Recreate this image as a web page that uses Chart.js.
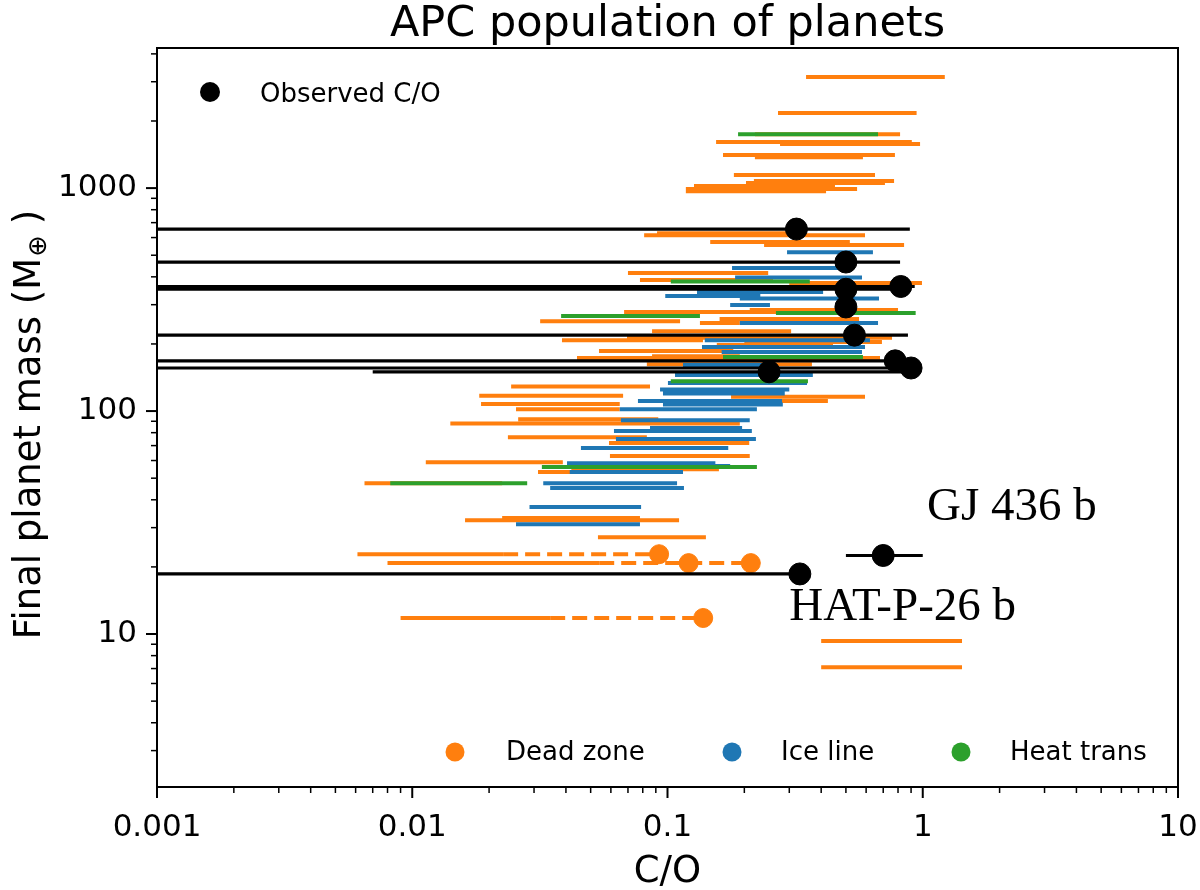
<!DOCTYPE html>
<html><head><meta charset="utf-8">
<script src="https://cdn.jsdelivr.net/npm/chart.js@4/dist/chart.umd.min.js"></script>
<style>html,body{margin:0;padding:0;background:#fff}</style>
</head><body>
<canvas id="c" width="1200" height="890"></canvas>
<script>
// ---- axis ticks ----
const xTickValues = [0.001, 0.01, 0.1, 1, 10];
const yTickValues = [10, 100, 1000];

// ---- Dead zone (orange) C/O ranges ----
const deadMass = [3150, 2170, 1746, 1608, 1575, 1406, 1377, 1144, 1075, 1053, 1021, 990, 969, 628, 615, 573, 555, 416, 387, 375, 284, 278, 259, 253, 248, 228, 213, 208, 204, 198, 186, 176, 173, 162, 129, 117, 116, 111, 107.5, 102, 92, 88, 76.4, 71.9, 62.8, 59, 54.9, 53.3, 47.5, 33.1, 32.4, 27.2, 9.3, 7.1];
const deadLo = [0.349, 0.271, 0.22, 0.155, 0.276, 0.165, 0.22, 0.182, 0.218, 0.203, 0.127, 0.118, 0.118, 0.091, 0.081, 0.147, 0.239, 0.070, 0.078, 0.30, 0.21, 0.0676, 0.16, 0.0317, 0.134, 0.087, 0.0694, 0.0386, 0.2, 0.156, 0.0539, 0.087, 0.0442, 0.083, 0.0244, 0.0183, 0.1774, 0.22, 0.0186, 0.0255, 0.026, 0.0141, 0.0237, 0.059, 0.0595, 0.0113, 0.042, 0.0311, 0.0065, 0.0225, 0.0161, 0.0534, 0.40, 0.40];
const deadHi = [1.22, 0.946, 0.815, 0.906, 0.976, 0.778, 0.583, 0.65, 0.772, 0.711, 0.453, 0.553, 0.418, 0.321, 0.594, 0.518, 0.845, 0.248, 0.259, 0.993, 0.80, 0.724, 0.563, 0.112, 0.192, 0.305, 0.758, 0.1377, 0.692, 0.445, 0.181, 0.192, 0.68, 0.368, 0.0854, 0.067, 0.594, 0.425, 0.065, 0.065, 0.092, 0.192, 0.083, 0.209, 0.21, 0.0389, 0.159, 0.11, 0.0225, 0.078, 0.111, 0.1414, 1.425, 1.425];

// ---- Dead zone planets with extended (dashed) C/O ----
const limMass = [22.8, 20.8, 20.8, 11.8];
const limLo = [0.0061, 0.008, 0.0137, 0.009];
const limMid = [0.0227, 0.054, 0.054, 0.0347];
const limCO = [0.0927, 0.121, 0.212, 0.138];

// ---- Ice line (blue) ----
const iceMass = [516, 438, 397, 342, 328, 320, 299, 248, 208, 194, 184, 161, 145, 133.5, 125, 120, 111, 107, 102, 91, 84, 81.3, 74.9, 68.3, 58.4, 56.7, 53.3, 47.5, 45.2, 37.1, 31.1];
const iceLo = [0.294, 0.179, 0.184, 0.1305, 0.098, 0.192, 0.176, 0.192, 0.14, 0.1365, 0.163, 0.115, 0.107, 0.1004, 0.0935, 0.096, 0.0766, 0.096, 0.065, 0.0657, 0.0854, 0.0617, 0.0628, 0.0458, 0.0404, 0.0632, 0.0414, 0.0326, 0.0347, 0.0288, 0.0255];
const iceHi = [0.638, 0.518, 0.578, 0.407, 0.231, 0.674, 0.252, 0.668, 0.621, 0.594, 0.578, 0.237, 0.371, 0.352, 0.30, 0.288, 0.281, 0.283, 0.224, 0.21, 0.196, 0.214, 0.222, 0.173, 0.154, 0.176, 0.115, 0.109, 0.116, 0.0788, 0.078];

// ---- Heat transition (green) ----
const heatMass = [1746, 381, 275, 267, 175, 136, 56.1, 47.5];
const heatLo = [0.189, 0.103, 0.266, 0.0383, 0.165, 0.103, 0.0322, 0.0082];
const heatHi = [0.668, 0.361, 0.938, 0.134, 0.583, 0.355, 0.224, 0.0282];

// ---- Observed C/O (black) ----
const obsMass = [655, 466, 362, 352, 293, 219, 168, 156, 150, 18.6, 22.5];
const obsCO = [0.32, 0.50, 0.82, 0.50, 0.50, 0.54, 0.78, 0.90, 0.25, 0.33, 0.70];
const obsLo = [1e-4, 1e-4, 1e-4, 1e-4, 0.50, 1e-4, 1e-4, 1e-4, 0.007, 1e-4, 0.50];
const obsHi = [0.89, 0.815, 0.93, 0.90, 0.50, 0.875, 0.80, 0.90, 0.90, 0.33, 1.0];

// ---- labels ----
const planetNames = ['GJ 436 b', 'HAT-P-26 b'];
const planetLabelCO = [1.04, 0.30];
const planetLabelMass = [32.4, 11.6];
const seriesNames = ['Dead zone', 'Ice line', 'Heat trans'];

const ORANGE = '#ff7f0e', BLUE = '#1f77b4', GREEN = '#2ca02c';

function segs(lo, hi, m) {
  const pts = [];
  for (let i = 0; i < m.length; i++) {
    pts.push({x: lo[i], y: m[i]}, {x: hi[i], y: m[i]}, {x: null, y: null});
  }
  return pts;
}
function pts(x, m) { return m.map((v, i) => ({x: x[i], y: v})); }

const lineDs = (label, data, color, width, order, dash) => ({
  label, data, showLine: true, borderColor: color, backgroundColor: color,
  borderWidth: width, pointRadius: 0, pointHoverRadius: 0, spanGaps: false,
  borderDash: dash || [], borderCapStyle: 'butt', order
});
const dotDs = (label, data, color, r, order) => ({
  label, data, showLine: false, pointRadius: r, pointHoverRadius: r,
  pointBackgroundColor: color, pointBorderColor: color, pointBorderWidth: 1, order
});

const FONT = "'DejaVu Sans', sans-serif";

const decor = {
  id: 'decor',
  afterDatasetsDraw(chart) {
    const ctx = chart.ctx, a = chart.chartArea;
    const xs = chart.scales.x, ys = chart.scales.y;
    ctx.save();
    ctx.strokeStyle = '#000';
    for (let d = -3; d <= 1; d++) {
      for (let k = 1; k <= 9; k++) {
        const v = k * Math.pow(10, d);
        if (v < xs.min * 0.999 || v > xs.max * 1.001) continue;
        const px = xs.getPixelForValue(v);
        const major = k === 1;
        ctx.lineWidth = major ? 2 : 1.5;
        ctx.beginPath(); ctx.moveTo(px, a.bottom); ctx.lineTo(px, a.bottom + (major ? 11 : 6)); ctx.stroke();
      }
    }
    for (let d = 0; d <= 3; d++) {
      for (let k = 1; k <= 9; k++) {
        const v = k * Math.pow(10, d);
        if (v < ys.min || v > ys.max) continue;
        const py = ys.getPixelForValue(v);
        const major = k === 1;
        ctx.lineWidth = major ? 2 : 1.5;
        ctx.beginPath(); ctx.moveTo(a.left, py); ctx.lineTo(a.left - (major ? 11 : 6), py); ctx.stroke();
      }
    }
    ctx.lineWidth = 2;
    ctx.strokeRect(a.left, a.top, a.right - a.left, a.bottom - a.top);

    ctx.fillStyle = '#000';
    ctx.font = "47px 'Liberation Serif', serif";
    ctx.textAlign = 'left'; ctx.textBaseline = 'alphabetic';
    planetNames.forEach((n, i) => {
      ctx.fillText(n, xs.getPixelForValue(planetLabelCO[i]), ys.getPixelForValue(planetLabelMass[i]));
    });

    ctx.font = '26px ' + FONT;
    ctx.beginPath(); ctx.arc(210, 92, 10, 0, Math.PI * 2); ctx.fillStyle = '#000'; ctx.fill();
    ctx.fillText('Observed C/O', 260, 102);
    const lx = [455, 732, 961], tx = [506, 781, 1010], cols = [ORANGE, BLUE, GREEN];
    seriesNames.forEach((n, i) => {
      ctx.beginPath(); ctx.arc(lx[i], 752, 9.5, 0, Math.PI * 2); ctx.fillStyle = cols[i]; ctx.fill();
      ctx.fillStyle = '#000';
      ctx.fillText(n, tx[i], 760);
    });
    ctx.restore();
  },
  afterDraw(chart) {
    const ctx = chart.ctx, a = chart.chartArea;
    const cx = (a.left + a.right) / 2, cy = (a.top + a.bottom) / 2;
    ctx.save();
    ctx.fillStyle = '#000';
    ctx.textAlign = 'center'; ctx.textBaseline = 'alphabetic';
    ctx.font = '43px ' + FONT;
    ctx.fillText('APC population of planets', cx, 36);
    ctx.font = '37px ' + FONT;
    ctx.fillText('C/O', cx, 882);
    ctx.translate(40, cy + 7);
    ctx.rotate(-Math.PI / 2);
    ctx.textAlign = 'left';
    const p1 = 'Final planet mass (M', p2 = '\u2295', p3 = ' )';
    ctx.font = '37px ' + FONT; const w1 = ctx.measureText(p1).width, w3 = ctx.measureText(p3).width;
    ctx.font = '26px ' + FONT; const w2 = ctx.measureText(p2).width;
    let x0 = -(w1 + w2 + w3) / 2;
    ctx.font = '37px ' + FONT; ctx.fillText(p1, x0, 0);
    ctx.font = '26px ' + FONT; ctx.fillText(p2, x0 + w1 + 1, 6);
    ctx.font = '37px ' + FONT; ctx.fillText(p3, x0 + w1 + w2, 0);
    ctx.restore();
  }
};

const solidDead = segs(deadLo, deadHi, deadMass).concat(segs(limLo, limMid, limMass));

new Chart(document.getElementById('c'), {
  type: 'scatter',
  data: {
    datasets: [
      dotDs('Observed C/O', pts(obsCO, obsMass), '#000', 11, 0),
      lineDs('Observed range', segs(obsLo, obsHi, obsMass), '#000', 3.2, 1),
      lineDs('Heat trans', segs(heatLo, heatHi, heatMass), GREEN, 4, 2),
      lineDs('Ice line', segs(iceLo, iceHi, iceMass), BLUE, 4, 3),
      dotDs('Dead zone ext', pts(limCO, limMass), ORANGE, 9.5, 4),
      lineDs('Dead zone ext line', segs(limMid, limCO, limMass), ORANGE, 4, 5, [15, 7]),
      lineDs('Dead zone', solidDead, ORANGE, 4, 6)
    ]
  },
  options: {
    responsive: false,
    animation: false,
    devicePixelRatio: 1,
    layout: {padding: {top: 48, right: 22, left: 0, bottom: 0}},
    plugins: {legend: {display: false}, title: {display: false}, tooltip: {enabled: false}},
    scales: {
      x: {
        type: 'logarithmic', min: 0.001, max: 10, position: 'bottom',
        grid: {display: false, drawTicks: false},
        border: {display: false},
        ticks: {font: {size: 31, family: FONT}, color: '#000', padding: 22, maxRotation: 0, autoSkip: false,
                callback: v => String(v)},
        afterBuildTicks: s => { s.ticks = xTickValues.map(v => ({value: v})); },
        afterFit: s => { s.height = 103; s.paddingLeft = 0; s.paddingRight = 0; }
      },
      y: {
        type: 'logarithmic', min: 2.06, max: 4250, position: 'left',
        grid: {display: false, drawTicks: false},
        border: {display: false},
        ticks: {font: {size: 31, family: FONT}, color: '#000', padding: 20, autoSkip: false,
                callback: v => String(v)},
        afterBuildTicks: s => { s.ticks = yTickValues.map(v => ({value: v})); },
        afterFit: s => { s.width = 157; s.paddingTop = 0; s.paddingBottom = 0; }
      }
    }
  },
  plugins: [decor]
});
</script>
</body></html>
